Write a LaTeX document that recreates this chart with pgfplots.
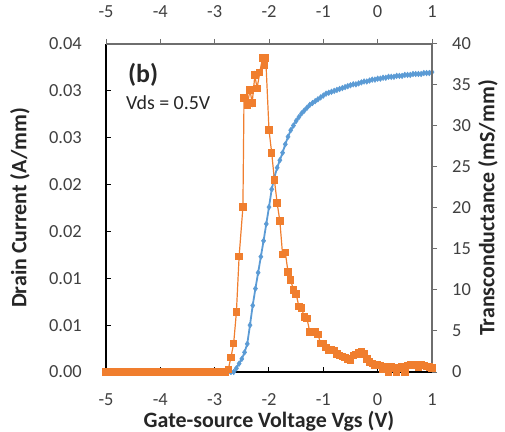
\documentclass[border=0pt]{standalone}
\usepackage{pgfplots}
\pgfplotsset{compat=1.18}
\usepackage{fontspec}
\setmainfont{Carlito}
\definecolor{cblue}{HTML}{5B9BD5}
\definecolor{corange}{HTML}{F07E2E}
\definecolor{ticktxt}{HTML}{404040}
\definecolor{labtxt}{HTML}{262626}
\definecolor{secline}{HTML}{6E6E6E}

\begin{document}
\begin{tikzpicture}
\useasboundingbox (-106bp,-60bp) rectangle (399bp,372bp);
% ---------------- primary axis: drain current ----------------
\begin{axis}[
  at={(0,0)}, anchor=south west,
  scale only axis, width=326bp, height=328bp,
  xmin=-5, xmax=1, ymin=0, ymax=0.035,
  scaled y ticks=false, scaled x ticks=false,
  axis x line*=bottom, axis y line*=left,
  axis line style={-},
  x axis line style={black, line width=1.3bp},
  y axis line style={black, line width=2bp},
  xtick={-5,-4,-3,-2,-1,0,1},
  xticklabels={-5,-4,-3,-2,-1,0,1},
  ytick={0,0.005,0.01,0.015,0.02,0.025,0.03,0.035},
  yticklabels={0.00,0.01,0.01,0.02,0.02,0.03,0.03,0.04},
  tick align=inside, major tick length=5bp,
  tick style={black, line width=1bp},
  ticklabel style={font=\fontsize{18.5}{18.5}\selectfont, text=ticktxt},
  xticklabel style={anchor=center, inner sep=0pt, yshift=-28bp},
  yticklabel style={anchor=east, inner sep=0pt, xshift=-24bp},
  xlabel={Gate-source Voltage Vgs (V)},
  ylabel={Drain Current (A/mm)},
  label style={font=\bfseries\fontsize{22}{22}\selectfont, text=labtxt},
  xlabel style={at={([yshift=-49bp]rel axis cs:0.5,0)}, anchor=center},
  ylabel style={at={([xshift=-86bp]rel axis cs:0,0.5)}, anchor=center},
  clip=false,
]
\addplot[color=cblue, line width=1.8bp, mark=diamond*, mark size=2.8bp,
  mark options={fill=cblue, draw=cblue, line width=0.5bp}] coordinates {
(-5.00,0) (-4.75,0) (-4.50,0) (-4.25,0) (-4.00,0) (-3.75,0) (-3.50,0)
(-3.25,0) (-3.00,0) (-2.85,0) (-2.75,0) (-2.70,0)
(-2.65,0.0000) (-2.60,0.0004) (-2.55,0.0009) (-2.50,0.0014) (-2.45,0.0021)
(-2.40,0.0030) (-2.35,0.0050) (-2.30,0.0071) (-2.25,0.0089) (-2.20,0.0106)
(-2.15,0.0123) (-2.10,0.0140) (-2.05,0.0158) (-2.00,0.0176) (-1.95,0.0195)
(-1.90,0.0208) (-1.85,0.0218) (-1.80,0.0226) (-1.75,0.0234) (-1.70,0.0243)
(-1.65,0.0251) (-1.60,0.0258) (-1.55,0.0263) (-1.50,0.0268) (-1.45,0.0272)
(-1.40,0.0276) (-1.35,0.0279) (-1.30,0.0282) (-1.25,0.0285) (-1.20,0.0287)
(-1.15,0.0289) (-1.10,0.0291) (-1.05,0.0293) (-1.00,0.0295) (-0.95,0.0297)
(-0.90,0.0298) (-0.85,0.0299) (-0.80,0.0300) (-0.75,0.0301) (-0.70,0.0302)
(-0.65,0.0303) (-0.60,0.0304) (-0.55,0.0305) (-0.50,0.0306) (-0.45,0.0307)
(-0.40,0.0307) (-0.35,0.0308) (-0.30,0.0309) (-0.25,0.0310) (-0.20,0.0310)
(-0.15,0.0311) (-0.10,0.0312) (-0.05,0.0312) (0.00,0.0313) (0.05,0.0313)
(0.10,0.0314) (0.15,0.0314) (0.20,0.0315) (0.25,0.0315) (0.30,0.0315)
(0.35,0.0316) (0.40,0.0316) (0.45,0.0316) (0.50,0.0317) (0.55,0.0317)
(0.60,0.0317) (0.65,0.0318) (0.70,0.0318) (0.75,0.0318) (0.80,0.0318)
(0.85,0.0319) (0.90,0.0319) (0.95,0.0319) (1.00,0.0320)
};
\node[font=\bfseries\fontsize{26}{26}\selectfont, text=labtxt] at (rel axis cs:0.114,0.905) {(b)};
\node[font=\fontsize{20}{20}\selectfont, text=labtxt, anchor=west, inner sep=0pt] at (rel axis cs:0.061,0.82) {Vds = 0.5V};
\end{axis}
% ---------------- secondary axis: transconductance ----------------
\begin{axis}[
  at={(0,0)}, anchor=south west,
  scale only axis, width=326bp, height=328bp,
  xmin=-5, xmax=1, ymin=0, ymax=40,
  axis x line*=top, axis y line*=right,
  axis line style={-, secline, line width=1.5bp},
  xtick={-5,-4,-3,-2,-1,0,1},
  xticklabels={-5,-4,-3,-2,-1,0,1},
  ytick={0,5,10,15,20,25,30,35,40},
  yticklabels={0,5,10,15,20,25,30,35,40},
  tick align=outside, major tick length=5bp,
  tick style={secline, line width=1bp},
  ticklabel style={font=\fontsize{18.5}{18.5}\selectfont, text=ticktxt},
  xticklabel style={anchor=center, inner sep=0pt, yshift=27bp},
  yticklabel style={anchor=west, inner sep=0pt, xshift=15bp},
  ylabel={Transconductance (mS/mm)},
  label style={font=\bfseries\fontsize{22}{22}\selectfont, text=labtxt},
  ylabel style={at={([xshift=56bp]rel axis cs:1,0.5)}, anchor=center},
  clip=false,
]
\addplot[color=corange, line width=1.2bp, mark=square*, mark size=3.1bp,
  mark options={fill=corange, draw=corange}] coordinates {
(-5.0,0) (-4.9,0) (-4.8,0) (-4.7,0) (-4.6,0) (-4.5,0) (-4.4,0) (-4.3,0)
(-4.2,0) (-4.1,0) (-4.0,0) (-3.9,0) (-3.8,0) (-3.7,0) (-3.6,0) (-3.5,0)
(-3.4,0) (-3.3,0) (-3.2,0) (-3.1,0) (-3.0,0) (-2.9,0) (-2.8,0)
(-2.75,0.3) (-2.70,1.8) (-2.65,3.5) (-2.60,7.3) (-2.55,14.1) (-2.48,20.1)
(-2.46,33.4) (-2.40,32.5) (-2.35,34.4) (-2.31,32.8) (-2.26,36.2) (-2.22,34.6)
(-2.17,36.5) (-2.12,38.3) (-2.08,37.4) (-2.06,38.3)
(-2.00,29.5) (-1.95,26.7) (-1.90,23.4) (-1.85,20.6) (-1.80,18.4)
(-1.75,14.3) (-1.70,14.6) (-1.65,12.2) (-1.60,11.2) (-1.55,10.0)
(-1.50,9.5) (-1.45,8.0) (-1.40,7.8) (-1.35,6.7) (-1.30,6.5)
(-1.25,4.9) (-1.20,4.8) (-1.15,4.9) (-1.10,4.6) (-1.05,3.5)
(-1.00,3.5) (-0.95,3.0) (-0.90,2.7) (-0.85,2.7) (-0.80,2.6)
(-0.75,2.2) (-0.70,2.0) (-0.65,1.9) (-0.60,1.8) (-0.55,1.6)
(-0.50,1.4) (-0.45,2.0) (-0.40,2.1) (-0.35,2.4) (-0.30,2.5)
(-0.25,2.2) (-0.20,1.6) (-0.15,1.2) (-0.10,1.0) (-0.05,0.8)
(0.00,0.9) (0.05,0.8) (0.10,0.3) (0.15,0.7) (0.20,0.0)
(0.25,0.6) (0.30,0.5) (0.35,0.0) (0.40,0.5) (0.45,0.6)
(0.50,0.0) (0.55,0.8) (0.60,0.9) (0.65,0.8) (0.70,0.9)
(0.75,0.6) (0.80,0.9) (0.85,0.8) (0.90,0.7) (0.95,0.6) (1.00,0.5)
};
\end{axis}
\end{tikzpicture}
\end{document}
